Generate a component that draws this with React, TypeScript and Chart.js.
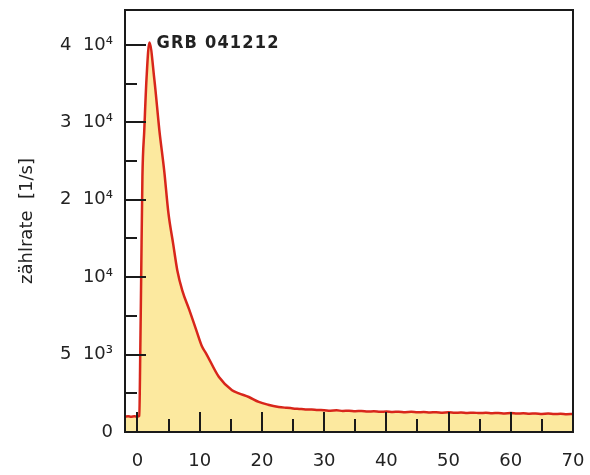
import React, { useEffect, useRef } from "react";
import { Chart, registerables } from "chart.js";

Chart.register(...registerables);

// ---- data ----
const timeSec = [
  -2, -1.5, -1, -0.5, 0, 0.3, 0.45, 0.6, 0.8, 1.1, 1.45, 1.92,
  2.72, 3.52, 4.32, 4.96, 5.76, 6.4, 7.2, 8.32, 9.44, 10.4, 11.0, 13.1, 15.2, 16.3, 17.9, 19.5, 21, 22.7,
  24, 25, 26, 27, 28, 29, 30, 31, 32, 33, 34, 35, 36, 37, 38, 39, 40, 41, 42, 43, 44, 45, 46, 47, 48, 49,
  50, 51, 52, 53, 54, 55, 56, 57, 58, 59, 60, 61, 62, 63, 64, 65, 66, 67, 68, 69, 70,
];
const rateCounts = [
  1000, 1020, 990, 1010, 1000, 1050, 5000, 10000, 23000, 29000, 35500, 40300,
  35500, 29000, 23600, 18400, 14200, 10900, 9150, 7900, 6600, 5500, 5100, 3550, 2700, 2500, 2260, 1940, 1760, 1620,
  1560, 1520, 1490, 1460, 1450, 1420, 1410, 1380, 1400, 1360, 1370, 1340, 1360, 1320, 1340, 1310, 1320, 1290, 1310, 1280, 1300, 1270, 1290, 1260, 1280, 1250,
  1270, 1240, 1260, 1230, 1250, 1220, 1240, 1210, 1230, 1200, 1220, 1190, 1210, 1180, 1200, 1170, 1190, 1160, 1180, 1150, 1160,
];

// y axis: labelled ticks are equally spaced on the original figure
const yTickCounts = [0, 5000, 10000, 20000, 30000, 40000];
const yTickLabels = ["0", "5  10³", "10⁴", "2  10⁴", "3  10⁴", "4  10⁴"];
const xTicks = [0, 10, 20, 30, 40, 50, 60, 70];
const xMinorTicks = [5, 15, 25, 35, 45, 55, 65];
const yMinorTicks = [0.5, 1.5, 2.5, 3.5, 4.5];
const annotationText = "GRB 041212";
const yTitle = "zählrate  [1/s]";

function toAxis(c: number): number {
  for (let i = 0; i < yTickCounts.length - 1; i++) {
    if (c <= yTickCounts[i + 1]) {
      return i + (c - yTickCounts[i]) / (yTickCounts[i + 1] - yTickCounts[i]);
    }
  }
  const n = yTickCounts.length - 1;
  return n + (c - yTickCounts[n]) / (yTickCounts[n] - yTickCounts[n - 1]);
}

const noPad = (s: any) => {
  s.paddingTop = 0;
  s.paddingBottom = 0;
  s.paddingLeft = 0;
  s.paddingRight = 0;
};

const framePlugin = {
  id: "framePlugin",
  afterDatasetsDraw(chart: any) {
    const { ctx, chartArea } = chart;
    const xs = chart.scales.x;
    const ys = chart.scales.y;
    const { left, right, top, bottom } = chartArea;
    ctx.save();
    ctx.strokeStyle = "#1a1a1a";
    ctx.lineWidth = 2;
    ctx.beginPath();
    xTicks.forEach((v) => {
      const px = Math.round(xs.getPixelForValue(v));
      ctx.moveTo(px, bottom);
      ctx.lineTo(px, bottom - 20);
    });
    xMinorTicks.forEach((v) => {
      const px = Math.round(xs.getPixelForValue(v));
      ctx.moveTo(px, bottom);
      ctx.lineTo(px, bottom - 13);
    });
    yTickCounts.forEach((_, i) => {
      const py = Math.round(ys.getPixelForValue(i));
      ctx.moveTo(left, py);
      ctx.lineTo(left + 21, py);
    });
    yMinorTicks.forEach((v) => {
      const py = Math.round(ys.getPixelForValue(v));
      ctx.moveTo(left, py);
      ctx.lineTo(left + 12, py);
    });
    ctx.stroke();
    ctx.strokeRect(left, top, right - left, bottom - top);

    const peakIdx = rateCounts.indexOf(Math.max(...rateCounts));
    const ax = xs.getPixelForValue(timeSec[peakIdx]) + 7;
    const ay = ys.getPixelForValue(toAxis(rateCounts[peakIdx]));
    ctx.fillStyle = "#222";
    ctx.font = "bold 18px 'Liberation Sans Narrow', 'DejaVu Sans Condensed', sans-serif";
    try { (ctx as any).letterSpacing = "1.2px"; } catch (e) {}
    ctx.textAlign = "left";
    ctx.textBaseline = "alphabetic";
    ctx.fillText(annotationText, ax, ay + 5);
    ctx.restore();
  },
};

export default function App() {
  const canvasRef = useRef<HTMLCanvasElement | null>(null);

  useEffect(() => {
    if (!canvasRef.current) return;
    const points = timeSec.map((t, i) => ({ x: t, y: toAxis(rateCounts[i]) }));
    const chart = new Chart(canvasRef.current, {
      type: "line",
      data: {
        datasets: [
          {
            data: points,
            borderColor: "#d8261b",
            borderWidth: 2.5,
            backgroundColor: "#fce99f",
            fill: "origin",
            pointRadius: 0,
            cubicInterpolationMode: "monotone",
          },
        ],
      },
      options: {
        animation: false,
        responsive: false,
        events: [],
        layout: { padding: { top: 10, right: 17, left: 0, bottom: 0 } },
        plugins: { legend: { display: false }, tooltip: { enabled: false } },
        scales: {
          x: {
            type: "linear",
            min: -2,
            max: 70,
            afterFit: (s: any) => { s.height = 43; noPad(s); },
            afterBuildTicks: (s: any) => { s.ticks = xTicks.map((v) => ({ value: v })); },
            grid: { display: false, drawTicks: false },
            border: { display: false },
            ticks: {
              padding: 19,
              color: "#222",
              font: { family: "'DejaVu Sans', sans-serif", size: 18 },
              maxRotation: 0,
              callback: (v: any) => String(v),
            },
          },
          y: {
            type: "linear",
            min: 0,
            max: 5.45,
            afterFit: (s: any) => { s.width = 125; noPad(s); },
            afterBuildTicks: (s: any) => { s.ticks = yTickLabels.map((_, i) => ({ value: i })); },
            grid: { display: false, drawTicks: false },
            border: { display: false },
            ticks: {
              padding: 12,
              color: "#222",
              font: { family: "'DejaVu Sans', sans-serif", size: 18 },
              callback: (v: any) => yTickLabels[Math.round(Number(v))] ?? "",
            },
            title: {
              display: true,
              text: yTitle,
              color: "#222",
              font: { family: "'DejaVu Sans', sans-serif", size: 18 },
              padding: { top: 17, bottom: 0 },
            },
          },
        },
      },
      plugins: [framePlugin],
    });
    return () => chart.destroy();
  }, []);

  return (
    <div style={{ position: "absolute", left: 0, top: 0, width: 590, height: 475, background: "#fff" }}>
      <canvas ref={canvasRef} width={590} height={475} />
    </div>
  );
}
